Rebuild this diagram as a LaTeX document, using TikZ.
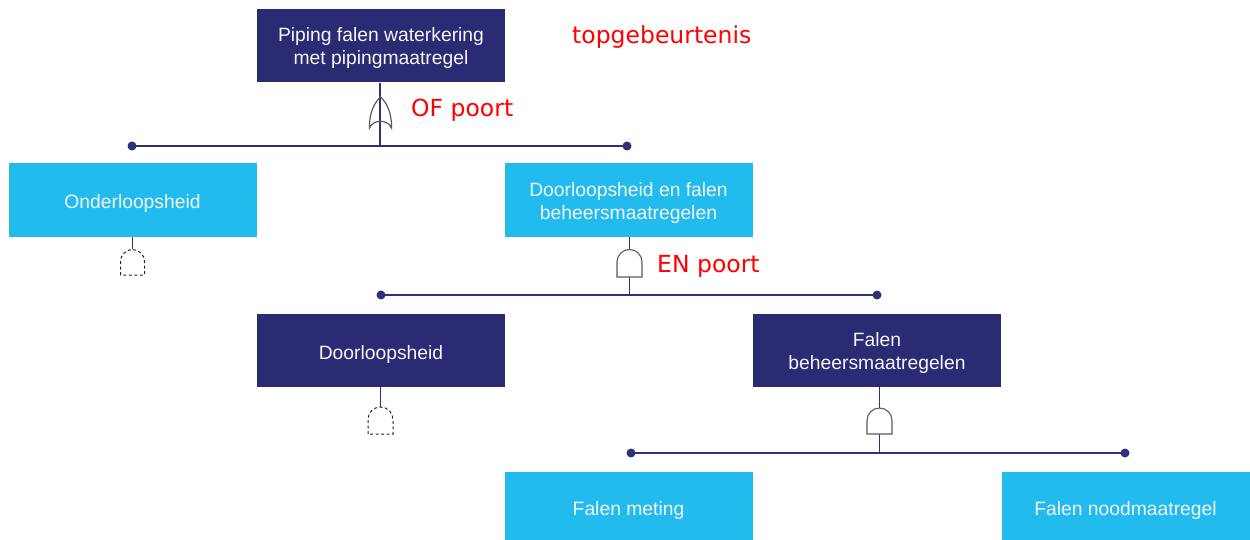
\documentclass[tikz,border=0pt]{standalone}
\usepackage{fontspec}
\setmainfont{Liberation Sans}
\newfontfamily\redfont{DejaVu Sans}
\definecolor{navy}{HTML}{2A2B72}
\definecolor{sky}{HTML}{22BBEE}
\definecolor{conncol}{HTML}{2E3278}
\definecolor{gatecol}{HTML}{5A5A5A}
\definecolor{redlab}{HTML}{FF0000}
\begin{document}
\begin{tikzpicture}[x=1pt,y=-1pt,
  box/.style={minimum width=248pt,minimum height=73pt,inner sep=0pt,align=center,
    text=white!96!blue,font=\fontsize{19.3}{23}\selectfont},
  oneline/.style={text height=22pt,text depth=4pt},
  twoline/.style={text height=40pt,text depth=2pt},
  dark/.style={box,fill=navy},
  light/.style={box,fill=sky},
  conn/.style={draw=conncol,line width=1.4pt},
  enddot/.style={fill=conncol},
  gate/.style={draw=gatecol,line width=1.1pt,fill=white},
  dgate/.style={draw=black!85,line width=1pt,dashed,dash pattern=on 3pt off 2.5pt},
  redtext/.style={text=redlab,font=\redfont\fontsize{23.5}{26}\selectfont,anchor=base west,inner sep=0pt}]
\useasboundingbox (0,0) rectangle (1250,540);

% boxes
\node[dark,twoline] (top) at (381,46) {Piping falen waterkering\\met pipingmaatregel};
\node[light,oneline,minimum height=74pt] (onder) at (132.5,200) {Onderloopsheid};
\node[light,twoline,minimum height=74pt] (doorf) at (628.5,200) {Doorloopsheid en falen\\beheersmaatregelen};
\node[dark,oneline] (door) at (381,350) {Doorloopsheid};
\node[dark,twoline] (falb) at (877,350) {Falen\\beheersmaatregelen};
\node[light,oneline,minimum height=68pt] (meting) at (628.5,506) {Falen meting};
\node[light,oneline,minimum height=68pt] (nood) at (1125.5,506) {Falen noodmaatregel};

% labels
\node[redtext] (lblTop) at (572,44) {topgebeurtenis};
\node[redtext] (lblOF) at (411,117) {OF poort};
\node[redtext] (lblEN) at (657,272) {EN poort};

% level 1: OR gate
\coordinate (b1L) at (132,146);
\coordinate (b1R) at (627,146);
\coordinate (b1M) at (380,146);
\draw[conn] (b1L) -- (b1R);
\draw[conn] (top.south -| b1M) -- (b1M);
\fill[enddot] (b1L) circle (4.5);
\fill[enddot] (b1R) circle (4.5);
\draw[draw=gatecol,line width=1.2pt]
  (369.5,128) .. controls (369,112) and (375,102) .. (380.5,97)
  .. controls (386,102) and (392,112) .. (391.5,128)
  .. controls (388,119) and (373,119) .. cycle;

% level 2: AND gate under Doorloopsheid en falen
\coordinate (g1T) at (629.5,249);
\coordinate (g1B) at (629.5,277);
\coordinate (b2L) at (381,295);
\coordinate (b2R) at (877,295);
\coordinate (b2M) at (629.5,295);
\draw[conn] (b2L) -- (b2R);
\draw[conn] (doorf.south -| g1T) -- (g1T);
\draw[conn] (g1B) -- (b2M);
\fill[enddot] (b2L) circle (4.5);
\fill[enddot] (b2R) circle (4.5);
\draw[gate] (617,277) -- (617,262) arc[start angle=180,end angle=360,radius=12.5] -- (642,277) -- cycle;

% level 3: AND gate under Falen beheersmaatregelen
\coordinate (g2T) at (879.5,408);
\coordinate (g2B) at (879.5,434);
\coordinate (b3L) at (631,453);
\coordinate (b3R) at (1125,453);
\coordinate (b3M) at (879.5,453);
\draw[conn] (b3L) -- (b3R);
\draw[conn] (falb.south -| g2T) -- (g2T);
\draw[conn] (g2B) -- (b3M);
\fill[enddot] (b3L) circle (4.5);
\fill[enddot] (b3R) circle (4.5);
\draw[gate] (867,434) -- (867,420.5) arc[start angle=180,end angle=360,radius=12.5] -- (892,434) -- cycle;

% undeveloped (dashed) gates
\coordinate (d1T) at (132.5,249);
\draw[conn] (onder.south -| d1T) -- (d1T);
\draw[dgate] (120.5,275) -- (120.5,261.5) arc[start angle=180,end angle=360,radius=12] -- (144.5,275) -- cycle;
\coordinate (d2T) at (380.5,407);
\draw[conn] (door.south -| d2T) -- (d2T);
\draw[dgate] (368,434) -- (368,419.5) arc[start angle=180,end angle=360,radius=12.5] -- (393,434) -- cycle;
\end{tikzpicture}
\end{document}
